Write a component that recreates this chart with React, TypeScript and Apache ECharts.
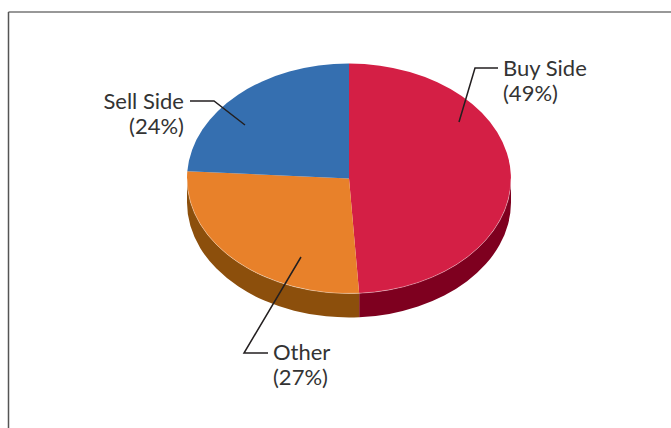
import React, { useEffect, useRef } from "react";
import * as echarts from "echarts";

const categories = ["Buy Side", "Other", "Sell Side"];
const shares = [49, 27, 24];
const topColors = ["#d41f45", "#e8812a", "#356fb0"];
const wallColors = ["#7e001f", "#8c4f0c", "#1f4474"];

// Tilted pie geometry
const CX = 349;
const CY = 178.5;
const RX = 162;
const RY = 115;
const DEPTH = 24;
const START_DEG = 0;

const total = shares.reduce((a, b) => a + b, 0);

function sliceRange(index: number): [number, number] {
  let sum = 0;
  for (let i = 0; i < index; i++) sum += shares[i];
  const from = START_DEG + (sum / total) * 360;
  return [from, from + (shares[index] / total) * 360];
}

// Clockwise degrees from twelve o'clock to a point on the rim ellipse
function rim(deg: number, drop = 0): string {
  const t = (deg * Math.PI) / 180;
  return `${(CX + RX * Math.sin(t)).toFixed(2)} ${(CY - RY * Math.cos(t) + drop).toFixed(2)}`;
}

function arc(to: number, large: boolean, sweep: number, drop = 0): string {
  return `A ${RX} ${RY} 0 ${large ? 1 : 0} ${sweep} ${rim(to, drop)}`;
}

function topPath(from: number, to: number): string {
  return `M ${CX} ${CY} L ${rim(from)} ${arc(to, to - from > 180, 1)} Z`;
}

function rimPath(from: number, to: number): string {
  return `M ${rim(from)} ${arc(to, to - from > 180, 1)}`;
}

// Only the part of the rim between 3 and 9 o'clock faces the viewer
function wallPath(from: number, to: number): string | null {
  const a = Math.max(from, 90);
  const b = Math.min(to, 270);
  if (b <= a) return null;
  return `M ${rim(a)} ${arc(b, false, 1)} L ${rim(b, DEPTH)} ${arc(a, false, 0, DEPTH)} Z`;
}

const renderWall = (params: any, api: any) => {
  api.value(0);
  const [from, to] = sliceRange(params.dataIndex);
  const d = wallPath(from, to);
  if (!d) return { type: "group", children: [] };
  return { type: "path", shape: { pathData: d }, style: { fill: wallColors[params.dataIndex] } };
};

const renderTop = (params: any, api: any) => {
  api.value(0);
  const [from, to] = sliceRange(params.dataIndex);
  const children: any[] = [
    { type: "path", shape: { pathData: topPath(from, to) }, style: { fill: topColors[params.dataIndex] } },
  ];
  const a = Math.max(from, 90);
  const b = Math.min(to, 270);
  if (b > a) {
    children.push({
      type: "path",
      shape: { pathData: rimPath(a, b) },
      style: { fill: "none", stroke: "rgba(255,255,255,0.5)", lineWidth: 0.7 },
    });
  }
  return { type: "group", children };
};

const labelFont = { fontFamily: "Lato, sans-serif", fontSize: 22, lineHeight: 25, fill: "#333333" };

function labelText(i: number): string {
  return `${categories[i]}\n(${shares[i]}%)`;
}

function leader(points: number[][]) {
  return {
    type: "polyline",
    shape: { points },
    style: { fill: "none", stroke: "#231f20", lineWidth: 1.5 },
    z: 10,
  };
}

export default function App() {
  const ref = useRef<HTMLDivElement>(null);

  useEffect(() => {
    const chart = echarts.init(ref.current!, null, { renderer: "svg" });
    chart.setOption({
      animation: false,
      backgroundColor: "#ffffff",
      series: [
        { type: "custom", coordinateSystem: "none", data: shares, renderItem: renderWall, silent: true, z: 1 },
        { type: "custom", coordinateSystem: "none", data: shares, renderItem: renderTop, silent: true, z: 2 },
      ],
      graphic: [
        // Frame: only the top and left edges fall inside the view
        { type: "line", shape: { x1: 8.5, y1: 12, x2: 671, y2: 12 }, style: { stroke: "#333333", lineWidth: 1.2 } },
        { type: "line", shape: { x1: 8.5, y1: 12, x2: 8.5, y2: 428 }, style: { stroke: "#555555", lineWidth: 1.5 } },
        leader([[498, 68], [475, 68], [459, 122]]),
        leader([[190, 101], [214, 101], [245, 125]]),
        leader([[268, 353], [244, 353], [301, 257]]),
        { type: "text", x: 503, y: 55, style: { text: labelText(0), textAlign: "left", ...labelFont }, z: 10 },
        { type: "text", x: 273, y: 339, style: { text: labelText(1), textAlign: "left", ...labelFont }, z: 10 },
        { type: "text", x: 184, y: 88, style: { text: labelText(2), textAlign: "right", ...labelFont }, z: 10 },
      ],
    });
    return () => chart.dispose();
  }, []);

  return <div ref={ref} style={{ position: "fixed", left: 0, top: 0, width: 671, height: 428 }} />;
}
